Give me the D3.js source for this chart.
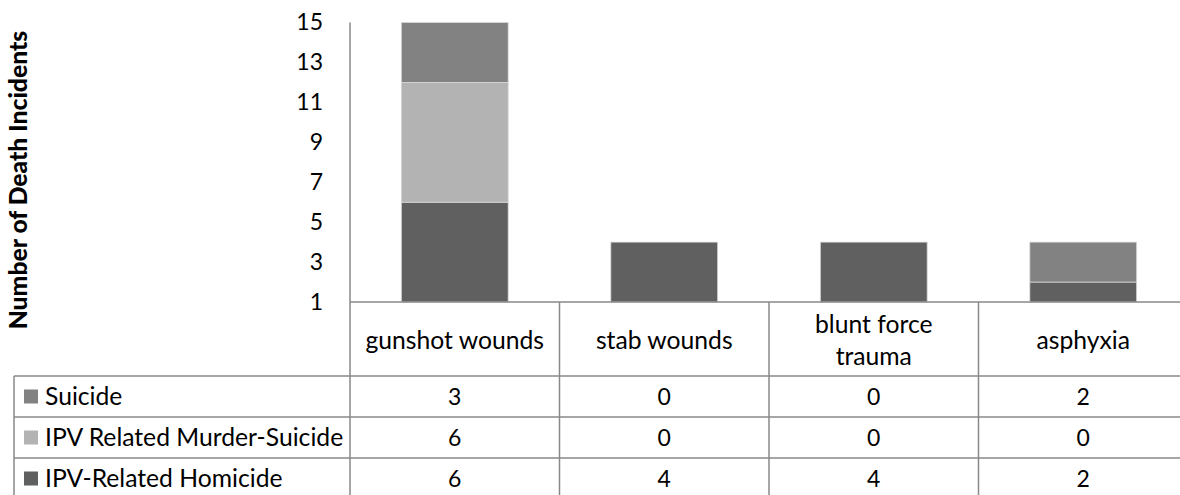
<!DOCTYPE html>
<html lang="en">
<head>
<meta charset="UTF-8">
<title>Death Incidents by Cause</title>
<script src="https://cdnjs.cloudflare.com/ajax/libs/d3/7.8.5/d3.min.js"></script>
<style>
  body { margin: 0; background: #fff; font-family: Lato, sans-serif; }
  svg { display: block; }
</style>
</head>
<body>
<div id="chart"></div>
<script>
// data
const categories = ["gunshot wounds", "stab wounds", "blunt force trauma", "asphyxia"];
const seriesNames = ["IPV-Related Homicide", "IPV Related Murder-Suicide", "Suicide"];
const homicide = [6, 4, 4, 2];
const murderSuicide = [6, 0, 0, 0];
const suicide = [3, 0, 0, 2];
const yTicks = [1, 3, 5, 7, 9, 11, 13, 15];
const colors = ["#606060", "#b3b3b3", "#828282"];

const width = 1180, height = 495;
const textSize = 24.7, numSize = 23;
const rows = categories.map((c, i) => ({
  cat: c,
  "IPV-Related Homicide": homicide[i],
  "IPV Related Murder-Suicide": murderSuicide[i],
  "Suicide": suicide[i]
}));

const svg = d3.select("#chart").append("svg")
  .attr("width", width).attr("height", height);

const plotLeft = 350, colW = 209.5, plotTop = 22.5, base = 302;
const x = d3.scaleBand().domain(categories).range([plotLeft, plotLeft + colW * categories.length]);
const y = d3.scaleLinear().domain([1, 15]).range([base, plotTop]);
const color = d3.scaleOrdinal().domain(seriesNames).range(colors);

const stacked = d3.stack().keys(seriesNames)(rows);
const barW = x.bandwidth() * 0.51;

svg.append("g").selectAll("g")
  .data(stacked)
  .join("g")
  .attr("fill", d => color(d.key))
  .selectAll("rect")
  .data(d => d.filter(s => s[1] - s[0] > 0))
  .join("rect")
  .attr("x", d => x(d.data.cat) + (x.bandwidth() - barW) / 2)
  .attr("width", barW)
  .attr("y", d => y(d[1]))
  .attr("height", d => y(Math.max(d[0], 1)) - y(d[1]))
  .attr("stroke", "#d9d9d9")
  .attr("stroke-width", 0.8);

// y axis labels (no tick marks)
const yAxis = d3.axisLeft(y).tickValues(yTicks).tickSize(0).tickPadding(27);
svg.append("g").attr("transform", `translate(${plotLeft},0)`).call(yAxis)
  .call(g => g.select(".domain").remove())
  .selectAll("text")
  .attr("font-family", "Lato, sans-serif")
  .attr("font-size", numSize)
  .attr("fill", "#000");

svg.append("text")
  .attr("transform", `translate(27,180) rotate(-90)`)
  .attr("text-anchor", "middle")
  .attr("font-weight", "900")
  .attr("font-size", textSize)
  .attr("fill", "#000")
  .text("Number of Death Incidents");

// data table
const lineCol = "#888";
const catRowBottom = 376, rowH = 41;
const tableRows = [
  { name: "Suicide", vals: suicide },
  { name: "IPV Related Murder-Suicide", vals: murderSuicide },
  { name: "IPV-Related Homicide", vals: homicide }
];
const legendLeft = 14;
const tbl = svg.append("g").attr("stroke", lineCol).attr("stroke-width", 1.5);

// vertical axis line continuing down as table border
tbl.append("line").attr("x1", plotLeft).attr("x2", plotLeft).attr("y1", plotTop).attr("y2", height);
tbl.append("line").attr("x1", plotLeft).attr("x2", width).attr("y1", base).attr("y2", base);
categories.slice(1).forEach(c => {
  tbl.append("line").attr("x1", x(c)).attr("x2", x(c)).attr("y1", base).attr("y2", height);
});
tableRows.forEach((r, i) => {
  const yy = catRowBottom + i * rowH;
  tbl.append("line").attr("x1", legendLeft).attr("x2", width).attr("y1", yy).attr("y2", yy);
});
tbl.append("line").attr("x1", legendLeft).attr("x2", legendLeft).attr("y1", catRowBottom).attr("y2", height);

// category labels
const catText = svg.append("g").attr("font-size", textSize).attr("text-anchor", "middle").attr("fill", "#000");
categories.forEach(c => {
  const cx = x(c) + x.bandwidth() / 2;
  const words = c === "blunt force trauma" ? ["blunt force", "trauma"] : [c];
  const cy = (base + catRowBottom) / 2 + 1;
  words.forEach((w, k) => {
    catText.append("text")
      .attr("x", cx)
      .attr("y", cy + (k - (words.length - 1) / 2) * 32)
      .attr("dy", "0.35em")
      .text(w);
  });
});

// values and legend rows
tableRows.forEach((r, i) => {
  const cy = catRowBottom + i * rowH + rowH / 2;
  svg.append("rect")
    .attr("x", 24).attr("y", cy - 7)
    .attr("width", 14).attr("height", 14)
    .attr("fill", color(r.name));
  svg.append("text")
    .attr("x", 45).attr("y", cy).attr("dy", "0.35em")
    .attr("font-size", textSize).attr("fill", "#000")
    .text(r.name);
  r.vals.forEach((v, j) => {
    svg.append("text")
      .attr("x", x(categories[j]) + x.bandwidth() / 2)
      .attr("y", cy).attr("dy", "0.35em")
      .attr("text-anchor", "middle")
      .attr("font-size", numSize).attr("fill", "#000")
      .text(v);
  });
});
</script>
</body>
</html>
